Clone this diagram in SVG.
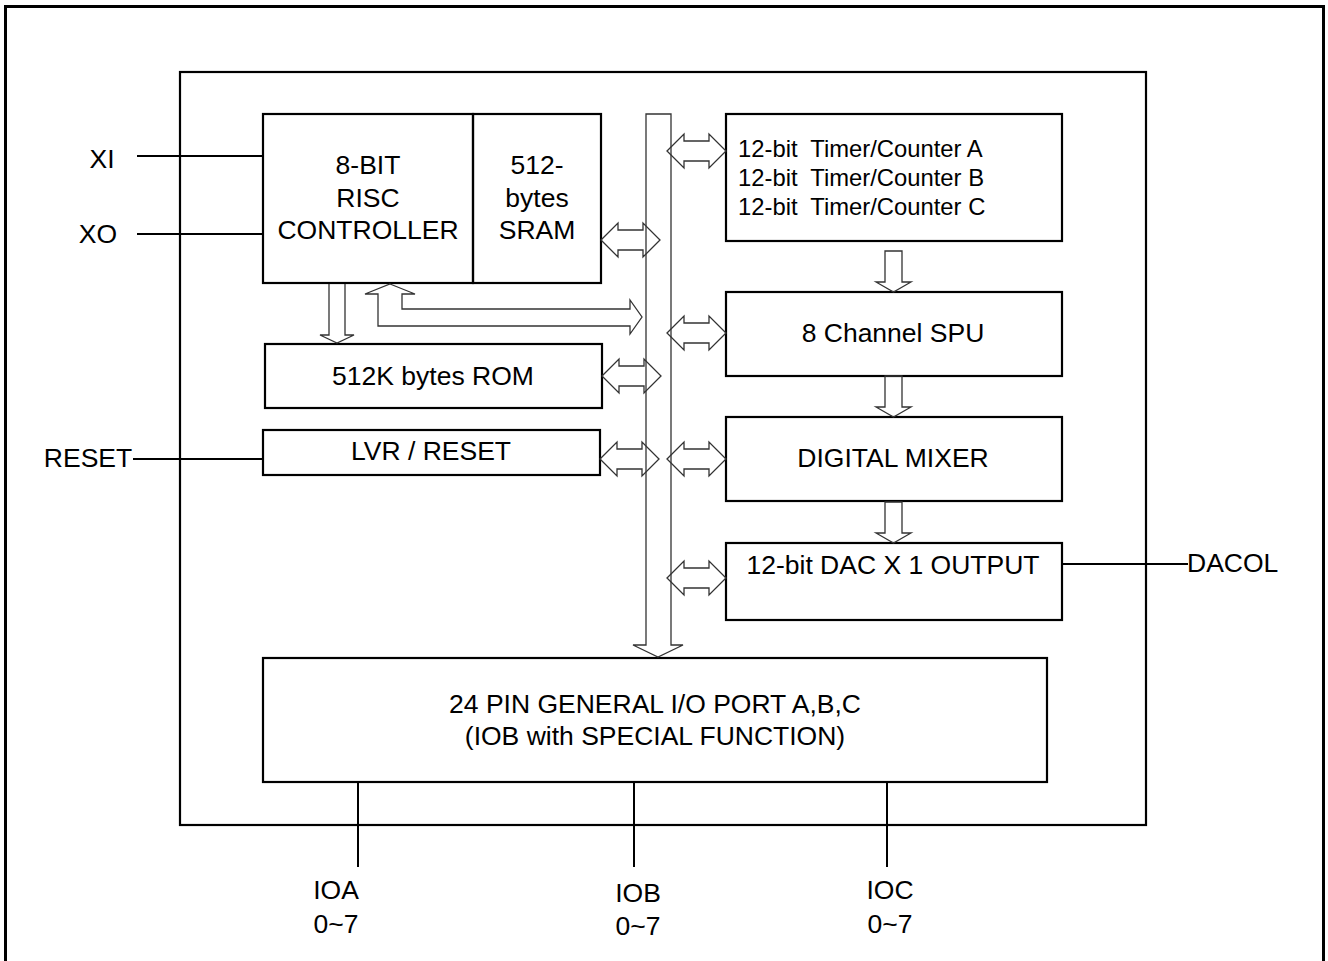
<svg xmlns="http://www.w3.org/2000/svg" width="1328" height="961" viewBox="0 0 1328 961">
<style>
.box{fill:none;stroke:#000;stroke-width:2.2}
.ln{fill:none;stroke:#000;stroke-width:2}
.ar{fill:none;stroke:#333;stroke-width:1.3;stroke-linejoin:miter}
text{font-family:"Liberation Sans",Arial,sans-serif;font-size:26.5px;fill:#000}
.c{text-anchor:middle}
.t{font-size:23.8px}
</style>
<defs>
<path id="dbl" d="M0,0 L17,-17 L17,-10 L42,-10 L42,-17 L59,0 L42,17 L42,10 L17,10 L17,17 Z"/>
<path id="dn" d="M-8.5,0 L8.5,0 L8.5,31 L17.5,31 L0,41 L-17.5,31 L-8.5,31 Z"/>
</defs>
<rect x="5.5" y="6.5" width="1318" height="970" fill="#fff" stroke="#000" stroke-width="3"/>
<rect x="180" y="72" width="966" height="753" class="box"/>

<g id="cpu"><rect x="263" y="114" width="210" height="169" class="box"/>
<text x="368" y="174" class="c">8-BIT</text><text x="368" y="207" class="c">RISC</text><text x="368" y="239" class="c">CONTROLLER</text></g>
<g id="sram"><rect x="473" y="114" width="128" height="169" class="box"/>
<text x="537" y="174" class="c">512-</text><text x="537" y="207" class="c">bytes</text><text x="537" y="239" class="c">SRAM</text></g>
<g id="rom"><rect x="265" y="344" width="337" height="64" class="box"/><text x="433" y="385" class="c">512K bytes ROM</text></g>
<g id="lvr"><rect x="263" y="430" width="337" height="45" class="box"/><text x="431" y="460" class="c">LVR / RESET</text></g>
<g id="timer"><rect x="726" y="114" width="336" height="127" class="box"/>
<text x="738" y="157" class="t" xml:space="preserve">12-bit  Timer/Counter A</text>
<text x="738" y="186" class="t" xml:space="preserve">12-bit  Timer/Counter B</text>
<text x="738" y="215" class="t" xml:space="preserve">12-bit  Timer/Counter C</text></g>
<g id="spu"><rect x="726" y="292" width="336" height="84" class="box"/><text x="893" y="342" class="c">8 Channel SPU</text></g>
<g id="mixer"><rect x="726" y="417" width="336" height="84" class="box"/><text x="893" y="467" class="c">DIGITAL MIXER</text></g>
<g id="dac"><rect x="726" y="543" width="336" height="77" class="box"/><text x="893" y="574" class="c">12-bit DAC X 1 OUTPUT</text></g>
<g id="io"><rect x="263" y="658" width="784" height="124" class="box"/>
<text x="655" y="713" class="c">24 PIN GENERAL I/O PORT A,B,C</text>
<text x="655" y="745" class="c">(IOB with SPECIAL FUNCTION)</text></g>

<g id="pins">
<text x="102" y="168" class="c">XI</text>
<text x="98" y="243" class="c">XO</text>
<text x="88" y="467" class="c">RESET</text>
<text x="1187" y="572">DACOL</text>
<text x="336" y="899" class="c">IOA</text><text x="336" y="933" class="c">0~7</text>
<text x="638" y="902" class="c">IOB</text><text x="638" y="935" class="c">0~7</text>
<text x="890" y="899" class="c">IOC</text><text x="890" y="933" class="c">0~7</text>
</g>

<g id="connectors">
<path class="ln" d="M137,156 H263 M137,234 H263 M133,459 H263 M1062,564 H1188 M358,782 V867 M634,782 V867 M887,782 V867"/>
<path class="ar" d="M646,645 V114 H671 V645 H683 L658,657 L633,645 Z"/>
<use href="#dbl" x="601" y="240" class="ar"/>
<use href="#dbl" x="602" y="376" class="ar"/>
<use href="#dbl" x="600" y="459" class="ar"/>
<use href="#dbl" x="667" y="151" class="ar"/>
<use href="#dbl" x="667" y="333" class="ar"/>
<use href="#dbl" x="667" y="459" class="ar"/>
<use href="#dbl" x="667" y="578" class="ar"/>
<use href="#dn" x="893.5" y="251" class="ar"/>
<use href="#dn" x="893.5" y="376" class="ar"/>
<use href="#dn" x="893.5" y="502" class="ar"/>
<path class="ar" d="M329,284 V335 H320 L337,343 L354,335 H345 V284"/>
<path class="ar" d="M390,284 L415,294 H402 V309 H630 V300 L642,317 L630,334 V326 H378 V294 H365 Z"/>
</g>
</svg>
